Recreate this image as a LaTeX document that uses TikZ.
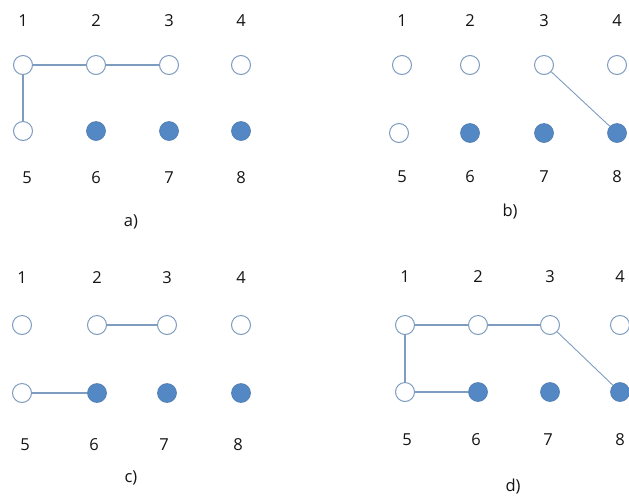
\documentclass[tikz,border=0pt]{standalone}
\usepackage{fontspec}
\setmainfont{Open Sans}
\definecolor{ring}{RGB}{125,156,192}
\definecolor{dot}{RGB}{84,136,196}
\definecolor{wire}{RGB}{125,156,192}
\definecolor{txt}{RGB}{20,20,20}
\tikzset{
  open/.style={circle,draw=ring,line width=1pt,fill=white,minimum size=19pt,inner sep=0pt},
  full/.style={circle,draw=dot!90!black,line width=0.6pt,fill=dot,minimum size=19pt,inner sep=0pt},
  lbl/.style={font=\fontsize{16.5}{16.5}\selectfont,text=txt,inner sep=0pt},
  wireline/.style={draw=wire,line width=1.1pt}
}
\begin{document}
\begin{tikzpicture}[x=1pt,y=-1pt]
\useasboundingbox (0,0) rectangle (629,499);
% panel a
\foreach \i/\x in {1/23,2/96,3/169,4/241}{
  \node[lbl] (at\i) at (\x,21) {\i};
  \node[open] (a\i) at (\x,65) {};
}
\node[open] (a5) at (23,131) {};
\foreach \i/\x in {6/96,7/169,8/241}{\node[full] (a\i) at (\x,131) {};}
\foreach \i/\x in {5/27,6/96,7/169,8/241}{\node[lbl] (ab\i) at (\x,178) {\i};}
\node[lbl] (acap) at (131,222) {a)};
\draw[wireline] (a1) -- (a2);
\draw[wireline] (a2) -- (a3);
\draw[wireline] (a1) -- (a5);
% panel b
\foreach \i/\x in {1/402,2/470,3/544,4/617}{
  \node[lbl] (bt\i) at (\x,21) {\i};
  \node[open] (b\i) at (\x,65) {};
}
\node[open] (b5) at (399,133) {};
\foreach \i/\x in {6/470,7/544,8/617}{\node[full] (b\i) at (\x,133) {};}
\foreach \i/\x in {5/402,6/470,7/544,8/617}{\node[lbl] (bb\i) at (\x,177) {\i};}
\node[lbl] (bcap) at (510,212) {b)};
\draw[wireline,line width=0.9pt] (b3) -- (b8);
% panel c
\foreach \i/\x in {1/22,2/97,3/167,4/241}{
  \node[lbl] (ct\i) at (\x,278) {\i};
  \node[open] (c\i) at (\x,325) {};
}
\node[open] (c5) at (22,393) {};
\foreach \i/\x in {6/97,7/167,8/241}{\node[full] (c\i) at (\x,393) {};}
\foreach \i/\x in {5/25,6/94,7/164,8/238}{\node[lbl] (cb\i) at (\x,445) {\i};}
\node[lbl] (ccap) at (131,478) {c)};
\draw[wireline] (c2) -- (c3);
\draw[wireline] (c5) -- (c6);
% panel d
\foreach \i/\x in {1/405,2/478,3/550,4/620}{
  \node[lbl] (dt\i) at (\x,277) {\i};
  \node[open] (d\i) at (\x,325) {};
}
\node[open] (d5) at (405,392) {};
\foreach \i/\x in {6/478,7/550,8/620}{\node[full] (d\i) at (\x,392) {};}
\foreach \i/\x in {5/407,6/476,7/548,8/620}{\node[lbl] (db\i) at (\x,440) {\i};}
\node[lbl] (dcap) at (513,487) {d)};
\draw[wireline] (d1) -- (d2);
\draw[wireline] (d2) -- (d3);
\draw[wireline] (d1) -- (d5);
\draw[wireline] (d5) -- (d6);
\draw[wireline,line width=0.9pt] (d3) -- (d8);
\end{tikzpicture}
\end{document}
